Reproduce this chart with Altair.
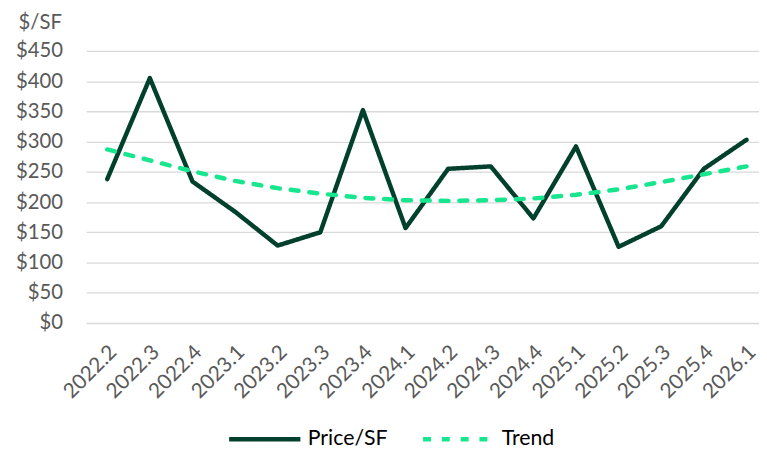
import altair as alt
import pandas as pd

quarters = ["2022.2", "2022.3", "2022.4", "2023.1", "2023.2", "2023.3", "2023.4", "2024.1",
            "2024.2", "2024.3", "2024.4", "2025.1", "2025.2", "2025.3", "2025.4", "2026.1"]
price = [238, 405, 234, 184, 128, 150, 352, 157, 255, 259, 173, 292, 126, 160, 255, 303]
trend = [287, 269, 251, 235, 223, 214, 207, 203, 202, 203, 206, 212, 221, 233, 246, 259]
y_ticks = [0, 50, 100, 150, 200, 250, 300, 350, 400, 450]
series_names = ["Price/SF", "Trend"]
series_colors = ["#00402c", "#17e68e"]

df = pd.DataFrame({
    "idx": list(range(len(quarters))),
    "quarter": quarters,
    "Price/SF": price,
    "Trend": trend,
})

label_expr = "[" + ",".join('"%s"' % q for q in quarters) + "][datum.value]"
FONT = "Lato"
GREY = "#595959"

legend_cfg = alt.Legend(
    title=None, orient="none", direction="horizontal",
    legendX=142, legendY=354,
    symbolType="stroke", symbolSize=5184, symbolStrokeWidth=4.5,
    labelFont=FONT, labelFontSize=21.5, labelColor="#000000", labelOffset=5,
    columnPadding=26,
)

chart = alt.Chart(df).transform_fold(
    series_names, as_=["series", "value"]
).mark_line(strokeWidth=4.5, strokeCap="round", strokeJoin="round").encode(
    x=alt.X("idx:Q",
            scale=alt.Scale(domain=[-0.4945, 15.294], nice=False, zero=False),
            axis=alt.Axis(values=list(range(len(quarters))), labelExpr=label_expr,
                          title=None, grid=False, domain=False, ticks=False,
                          labelAngle=-45, labelAlign="right", labelBaseline="middle",
                          labelPadding=26, labelOffset=6, labelOverlap=False,
                          labelFont=FONT, labelFontSize=21, labelColor=GREY)),
    y=alt.Y("value:Q",
            scale=alt.Scale(domain=[0, 450], nice=False),
            axis=alt.Axis(values=y_ticks, format="$.0f", domain=False, ticks=False,
                          gridColor="#d9d9d9", gridWidth=1.3,
                          labelPadding=24, labelFont=FONT, labelFontSize=20.5, labelColor=GREY,
                          title="$/SF", titleAngle=0, titleAlign="right", titleBaseline="middle",
                          titleX=-25, titleY=-29, titleFont=FONT, titleFontSize=20.5,
                          titleFontWeight="normal", titleColor=GREY)),
    color=alt.Color("series:N", scale=alt.Scale(domain=series_names, range=series_colors),
                    legend=legend_cfg),
    strokeDash=alt.StrokeDash("series:N", scale=alt.Scale(domain=series_names, range=[[1, 0], [8, 11]]),
                              legend=legend_cfg),
).properties(
    width=680, height=275,
    autosize=alt.AutoSizeParams(type="none"),
    padding={"left": 79, "top": 41, "right": 0, "bottom": 127},
).configure_view(stroke=None)

chart.save("out.html", embed_options={"renderer": "svg", "actions": False})
